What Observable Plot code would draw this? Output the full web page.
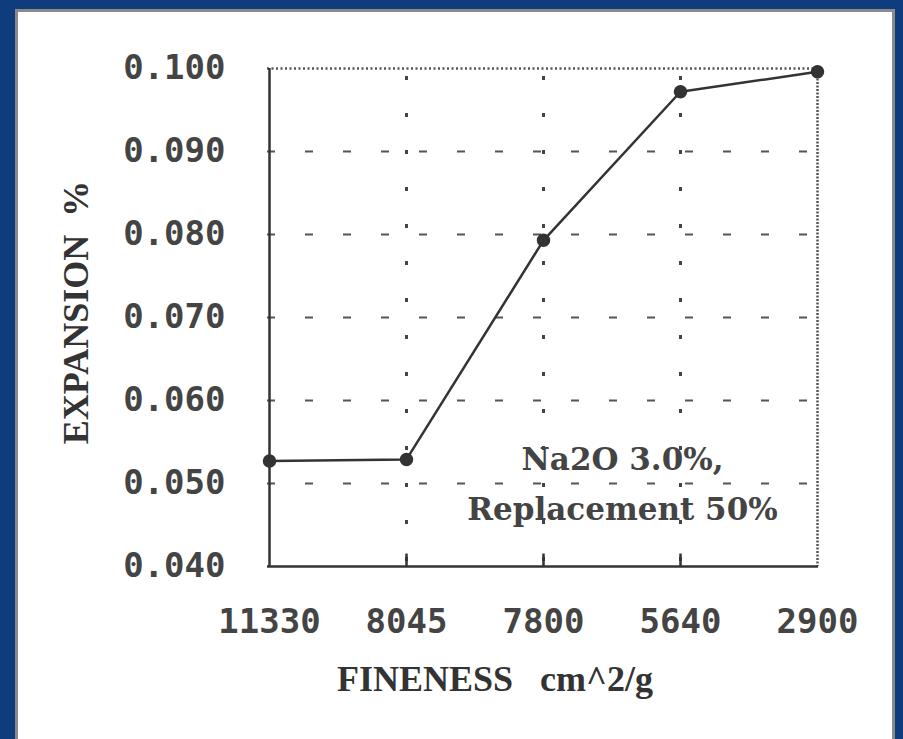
<!DOCTYPE html>
<html>
<head>
<meta charset="utf-8">
<script src="https://cdn.jsdelivr.net/npm/d3@7"></script>
<script src="https://cdn.jsdelivr.net/npm/@observablehq/plot@0.6"></script>
<style>
  html, body { margin: 0; padding: 0; }
  body { width: 903px; height: 739px; background: #0f3c7c; position: relative; overflow: hidden; }
  #panel { position: absolute; left: 15px; top: 9px; width: 874px; height: 740px; background: #fff;
           border: 3px solid #8a8a8a; border-bottom: none; }
  #chart { position: absolute; left: 0; top: 0; }
</style>
</head>
<body>
<div id="panel"></div>
<div id="chart"></div>
<script>
const categories = ["11330", "8045", "7800", "5640", "2900"];
const expansion = [0.0527, 0.0529, 0.0793, 0.0972, 0.0996];
const yTicks = [0.040, 0.050, 0.060, 0.070, 0.080, 0.090, 0.100];
const gridY = [0.050, 0.060, 0.070, 0.080, 0.090];
const gridX = ["8045", "7800", "5640"];
const noteLines = ["Na2O 3.0%,", "Replacement 50%"];
const noteY = [0.0528, 0.0468];
const xLabel = "FINENESS\u00a0\u00a0\u00a0cm^2/g";
const yLabel = "EXPANSION\u00a0\u00a0%";

const data = categories.map((c, i) => ({fineness: c, expansion: expansion[i]}));
const notes = noteLines.map((t, i) => ({text: t, y: noteY[i]}));

const ink = "#333";

const chart = Plot.plot({
  width: 903,
  height: 739,
  marginLeft: 267,
  marginRight: 85,
  marginTop: 68,
  marginBottom: 173,
  style: {background: "transparent", fontFamily: "'DejaVu Sans Mono', monospace", color: ink, overflow: "visible"},
  x: {type: "point", domain: categories, padding: 0},
  y: {domain: [0.040, 0.100]},
  marks: [
    Plot.ruleY(gridY, {y: d => d, stroke: "#555", strokeWidth: 2, strokeDasharray: "8,30"}),
    Plot.ruleX(gridX, {x: d => d, stroke: "#444", strokeWidth: 3, strokeDasharray: "4,33", strokeDashoffset: -8}),
    Plot.ruleY([0.100], {stroke: "#555", strokeWidth: 2.5, strokeDasharray: "2,2.5"}),
    Plot.ruleX([categories[categories.length - 1]], {stroke: "#555", strokeWidth: 2.5, strokeDasharray: "2,1.5"}),
    Plot.ruleX([categories[0]], {stroke: ink, strokeWidth: 2.5}),
    Plot.ruleY([0.040], {stroke: ink, strokeWidth: 2.5}),
    Plot.ruleX(gridX, {x: d => d, y1: 0.040, y2: 0.0415, stroke: ink, strokeWidth: 2.5}),
    Plot.axisY({ticks: yTicks, tickFormat: d3.format(".3f"), tickSize: 0, tickPadding: 42, fontSize: 34, fontWeight: "bold", label: null, fill: "#444"}),
    Plot.axisX({tickSize: 0, tickPadding: 42, fontSize: 34, fontWeight: "bold", label: null, fill: "#444"}),
    Plot.line(data, {x: "fineness", y: "expansion", stroke: ink, strokeWidth: 2.5}),
    Plot.dot(data, {x: "fineness", y: "expansion", r: 6, fill: ink, stroke: ink}),
    Plot.text(notes, {x: () => "7800", y: "y", text: "text", dx: 79, fontSize: 31, fontWeight: "bold", fontFamily: "'DejaVu Serif', serif", fill: "#444", textAnchor: "middle"}),
    Plot.text([xLabel], {frameAnchor: "bottom", text: d => d, dx: -48, dy: 124, fontSize: 36, fontWeight: "bold", fontFamily: "'Liberation Serif', serif", fill: "#333"}),
    Plot.text([yLabel], {frameAnchor: "left", textAnchor: "middle", text: d => d, dx: -191, dy: -5, rotate: -90, fontSize: 36, fontWeight: "bold", fontFamily: "'Liberation Serif', serif", fill: "#333"})
  ]
});
document.getElementById("chart").appendChild(chart);
</script>
</body>
</html>
